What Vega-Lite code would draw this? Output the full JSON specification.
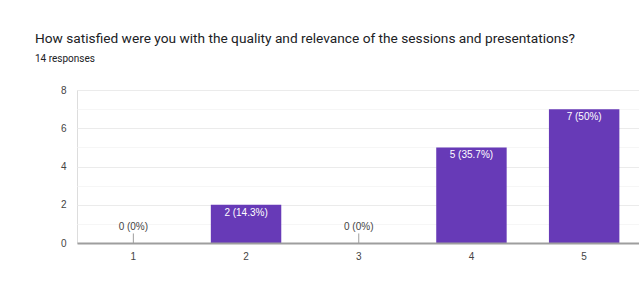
{
  "$schema": "https://vega.github.io/schema/vega-lite/v6.json",
  "width": 563.5,
  "height": 153,
  "autosize": {"type": "none"},
  "padding": {"left": 77, "top": 90, "right": 0, "bottom": 62},
  "background": "white",
  "title": {
    "text": "How satisfied were you with the quality and relevance of the sessions and presentations?",
    "subtitle": "14 responses",
    "anchor": "start",
    "frame": "group",
    "dx": -42,
    "offset": 21,
    "font": "Roboto",
    "fontSize": 13.7,
    "fontWeight": "normal",
    "color": "#202124",
    "subtitleFont": "Roboto",
    "subtitleFontSize": 10,
    "subtitleColor": "#202124",
    "subtitlePadding": 8
  },
  "config": {
    "axisY": {
      "title": null,
      "labelOverlap": false,
      "domain": false,
      "ticks": false,
      "labelFont": "Liberation Sans",
      "labelFontSize": 10,
      "labelColor": "#444444",
      "labelPadding": 11,
      "gridColor": "#ebebeb"
    }
  },
  "data": {
    "values": [
      {"rating": "1", "count": 0, "label": "0 (0%)"},
      {"rating": "2", "count": 2, "label": "2 (14.3%)"},
      {"rating": "3", "count": 0, "label": "0 (0%)"},
      {"rating": "4", "count": 5, "label": "5 (35.7%)"},
      {"rating": "5", "count": 7, "label": "7 (50%)"}
    ]
  },
  "encoding": {
    "x": {
      "field": "rating",
      "type": "nominal",
      "scale": {"paddingInner": 0.375, "paddingOuter": 0.1875},
      "axis": {
        "title": null,
        "labelAngle": 0,
        "ticks": false,
        "domainColor": "#9e9e9e",
        "domainWidth": 2,
        "labelFont": "Liberation Sans",
        "labelFontSize": 10,
        "labelColor": "#444444",
        "labelPadding": 8,
        "zindex": 1
      }
    }
  },
  "layer": [
    {
      "mark": {"type": "bar", "color": "#673ab7"},
      "encoding": {
        "y": {
          "field": "count",
          "type": "quantitative",
          "scale": {"domain": [0, 8], "nice": false},
          "axis": {
            "values": [0, 1, 2, 3, 4, 5, 6, 7, 8],
            "labelExpr": "datum.value % 2 === 1 ? '' : datum.label",
            "labelOverlap": false,
            "gridColor": {"condition": {"test": "datum.value % 2 === 1", "value": "#f6f6f6"}, "value": "#ebebeb"},
            "zindex": 0
          }
        }
      }
    },
    {
      "transform": [{"filter": "datum.count === 0"}],
      "mark": {"type": "rule", "color": "#9e9e9e", "strokeWidth": 1},
      "encoding": {
        "y": {
          "datum": 0,
          "type": "quantitative",
          "axis": {
            "values": [0, 1, 2, 3, 4, 5, 6, 7, 8],
            "labelExpr": "datum.value % 2 === 1 ? '' : datum.label",
            "labelOverlap": false,
            "gridColor": {"condition": {"test": "datum.value % 2 === 1", "value": "#f6f6f6"}, "value": "#ebebeb"},
            "zindex": 0
          }
        },
        "y2": {"datum": 0.5}
      }
    },
    {
      "transform": [{"filter": "datum.count > 0"}],
      "mark": {"type": "text", "baseline": "top", "dy": 3, "color": "white", "font": "Liberation Sans", "fontSize": 10},
      "encoding": {
        "y": {
          "field": "count",
          "type": "quantitative",
          "axis": {
            "values": [0, 1, 2, 3, 4, 5, 6, 7, 8],
            "labelExpr": "datum.value % 2 === 1 ? '' : datum.label",
            "labelOverlap": false,
            "gridColor": {"condition": {"test": "datum.value % 2 === 1", "value": "#f6f6f6"}, "value": "#ebebeb"},
            "zindex": 0
          }
        },
        "text": {"field": "label"}
      }
    },
    {
      "transform": [{"filter": "datum.count === 0"}],
      "mark": {"type": "text", "baseline": "bottom", "dy": -1, "color": "#444444", "font": "Liberation Sans", "fontSize": 10},
      "encoding": {
        "y": {
          "datum": 0.5,
          "type": "quantitative",
          "axis": {
            "values": [0, 1, 2, 3, 4, 5, 6, 7, 8],
            "labelExpr": "datum.value % 2 === 1 ? '' : datum.label",
            "labelOverlap": false,
            "gridColor": {"condition": {"test": "datum.value % 2 === 1", "value": "#f6f6f6"}, "value": "#ebebeb"},
            "zindex": 0
          }
        },
        "text": {"field": "label"}
      }
    }
  ]
}
